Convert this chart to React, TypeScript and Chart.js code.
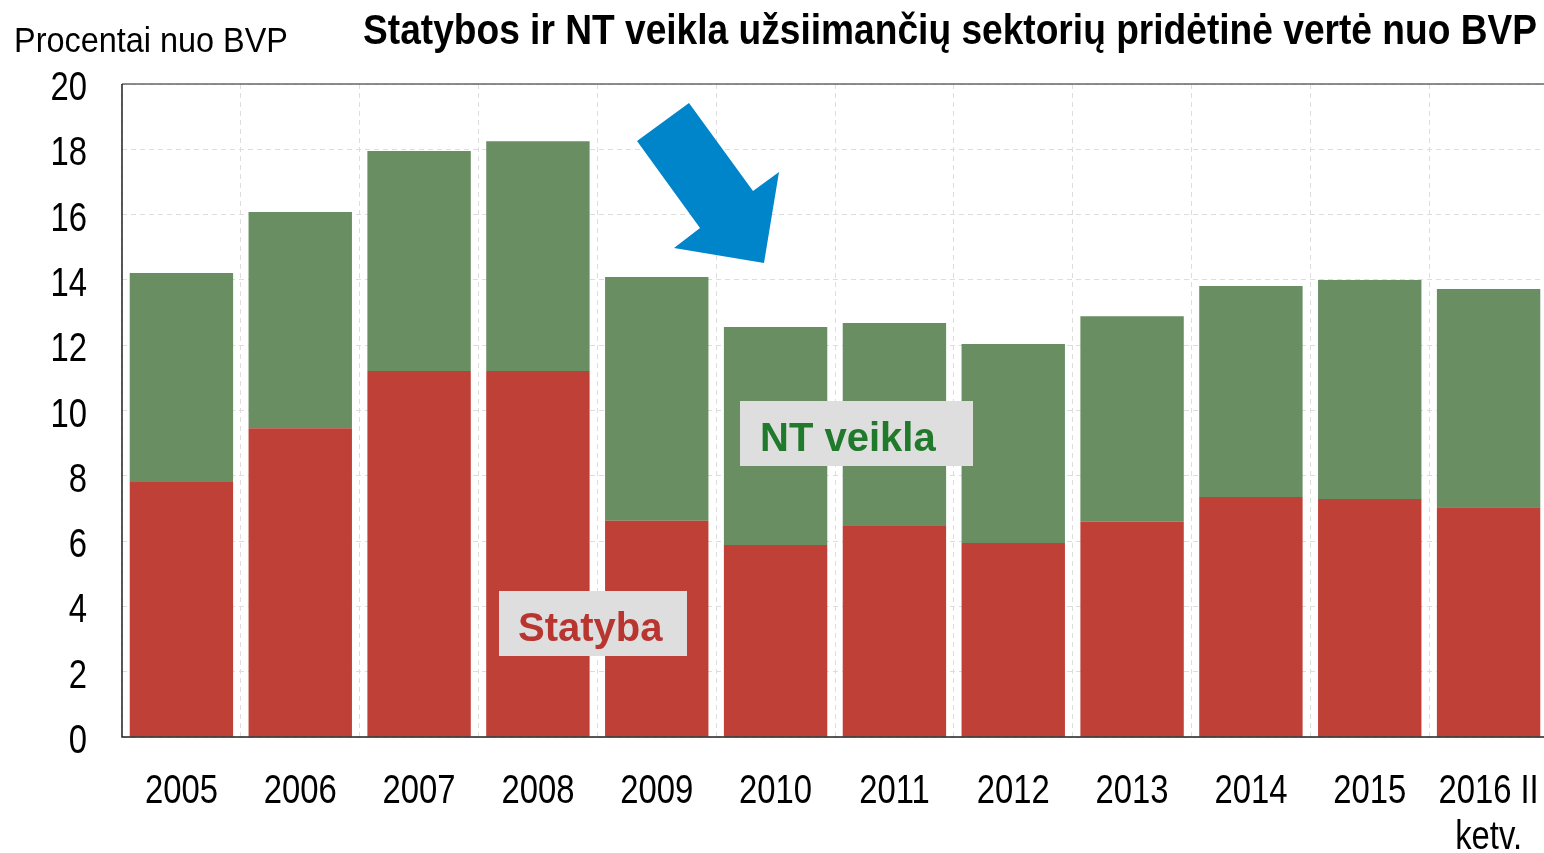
import React, { useEffect, useRef } from "react";
import { Chart, registerables } from "chart.js";

Chart.register(...registerables);

const categories: (string | string[])[] = ["2005", "2006", "2007", "2008", "2009", "2010", "2011", "2012", "2013", "2014", "2015", ["2016 II", "ketv."]];
const statyba = [7.81, 9.46, 11.21, 11.21, 6.62, 5.88, 6.46, 5.94, 6.59, 7.35, 7.29, 7.04];
const ntVeikla = [6.4, 6.62, 6.74, 7.04, 7.47, 6.68, 6.22, 6.1, 6.3, 6.46, 6.71, 6.68];
const yTicks = [0, 2, 4, 6, 8, 10, 12, 14, 16, 18, 20];

const TITLE = "Statybos ir NT veikla užsiimančių sektorių pridėtinė vertė nuo BVP";
const Y_TITLE = "Procentai nuo BVP";
const FONT = "'Liberation Sans', Arial, sans-serif";
const NARROW_SCALE = 0.82;

function fitText(ctx: CanvasRenderingContext2D, text: string, x: number, y: number, width: number) {
  const w = ctx.measureText(text).width;
  const s = width / w;
  ctx.save();
  ctx.translate(x, y);
  ctx.scale(s, 1);
  ctx.textAlign = "left";
  ctx.fillText(text, 0, 0);
  ctx.restore();
}

function narrowText(ctx: CanvasRenderingContext2D, text: string, x: number, y: number, align: CanvasTextAlign) {
  ctx.save();
  ctx.translate(x, y);
  ctx.scale(NARROW_SCALE, 1);
  ctx.textAlign = align;
  ctx.fillText(text, 0, 0);
  ctx.restore();
}

const decor = {
  id: "decor",
  afterDatasetsDraw(chart: any) {
    const ctx = chart.ctx as CanvasRenderingContext2D;
    const a = chart.chartArea;
    ctx.save();
    // borders
    ctx.lineWidth = 1.5;
    ctx.strokeStyle = "#666666";
    ctx.beginPath();
    ctx.moveTo(a.left, a.top);
    ctx.lineTo(a.right, a.top);
    ctx.stroke();
    ctx.strokeStyle = "#222222";
    ctx.beginPath();
    ctx.moveTo(a.left, a.top);
    ctx.lineTo(a.left, a.bottom);
    ctx.lineTo(a.right, a.bottom);
    ctx.stroke();

    // tick labels (narrow style)
    ctx.fillStyle = "#000000";
    ctx.textBaseline = "alphabetic";
    ctx.font = `40px ${FONT}`;
    const xs = chart.scales.x;
    xs.ticks.forEach((_t: any, i: number) => {
      const px = xs.getPixelForTick(i);
      const lab = categories[i];
      const lines = Array.isArray(lab) ? lab : [lab];
      lines.forEach((ln, j) => narrowText(ctx, ln, px, 803 + j * 46, "center"));
    });
    const ys = chart.scales.y;
    ctx.font = `40px ${FONT}`;
    yTicks.forEach((v) => {
      const py = ys.getPixelForValue(v);
      narrowText(ctx, String(v), 87, py + 16, "right");
    });

    // titles
    ctx.font = `bold 42px ${FONT}`;
    fitText(ctx, TITLE, 363, 44, 1174);
    ctx.font = `35px ${FONT}`;
    fitText(ctx, Y_TITLE, 14, 52, 274);

    // annotation labels
    ctx.fillStyle = "#DEDEDE";
    ctx.fillRect(499, 591, 188, 65);
    ctx.fillRect(740, 401, 233, 65);
    ctx.font = `bold 40px ${FONT}`;
    ctx.textAlign = "left";
    ctx.fillStyle = "#B83530";
    ctx.fillText("Statyba", 518, 641);
    ctx.fillStyle = "#217A2B";
    ctx.fillText("NT veikla", 760, 451);

    // arrow
    ctx.fillStyle = "#0085CA";
    ctx.beginPath();
    const pts = [[689, 103], [753, 191], [779, 172], [764, 263], [674, 248], [700, 228], [637, 141]];
    pts.forEach((p, i) => (i ? ctx.lineTo(p[0], p[1]) : ctx.moveTo(p[0], p[1])));
    ctx.closePath();
    ctx.fill();
    ctx.restore();
  },
};

export default function App() {
  const ref = useRef<HTMLCanvasElement>(null);
  useEffect(() => {
    if (!ref.current) return;
    const chart = new Chart(ref.current, {
      type: "bar",
      data: {
        labels: categories,
        datasets: [
          { label: "Statyba", data: statyba, backgroundColor: "#BE4036", barPercentage: 0.87, categoryPercentage: 1 },
          { label: "NT veikla", data: ntVeikla, backgroundColor: "#688E62", barPercentage: 0.87, categoryPercentage: 1 },
        ],
      },
      options: {
        responsive: false,
        animation: false,
        layout: { padding: { top: 84, left: 0, right: 0, bottom: 0 } },
        plugins: { legend: { display: false }, tooltip: { enabled: false }, title: { display: false } },
        scales: {
          x: {
            stacked: true,
            grid: { display: true, offset: true, color: "#DDDDDD", lineWidth: 1, drawTicks: false },
            border: { display: false, dash: [5, 4] },
            ticks: { display: false, autoSkip: false },
            afterFit: (s: any) => { s.height = 116; s.paddingLeft = 0; s.paddingRight = 0; },
          },
          y: {
            stacked: true,
            min: 0,
            max: 20,
            afterBuildTicks: (s: any) => { s.ticks = yTicks.map((v) => ({ value: v })); },
            grid: { color: "#DDDDDD", lineWidth: 1, drawTicks: false },
            border: { display: false, dash: [5, 4] },
            ticks: { display: false },
            afterFit: (s: any) => { s.width = 122; s.paddingTop = 0; s.paddingBottom = 0; },
          },
        },
      },
      plugins: [decor],
    });
    return () => chart.destroy();
  }, []);
  return (
    <div style={{ position: "absolute", left: 0, top: 0, width: 1544, height: 853, overflow: "hidden", background: "#fff" }}>
      <canvas ref={ref} width={1548} height={853} style={{ display: "block" }} />
    </div>
  );
}
